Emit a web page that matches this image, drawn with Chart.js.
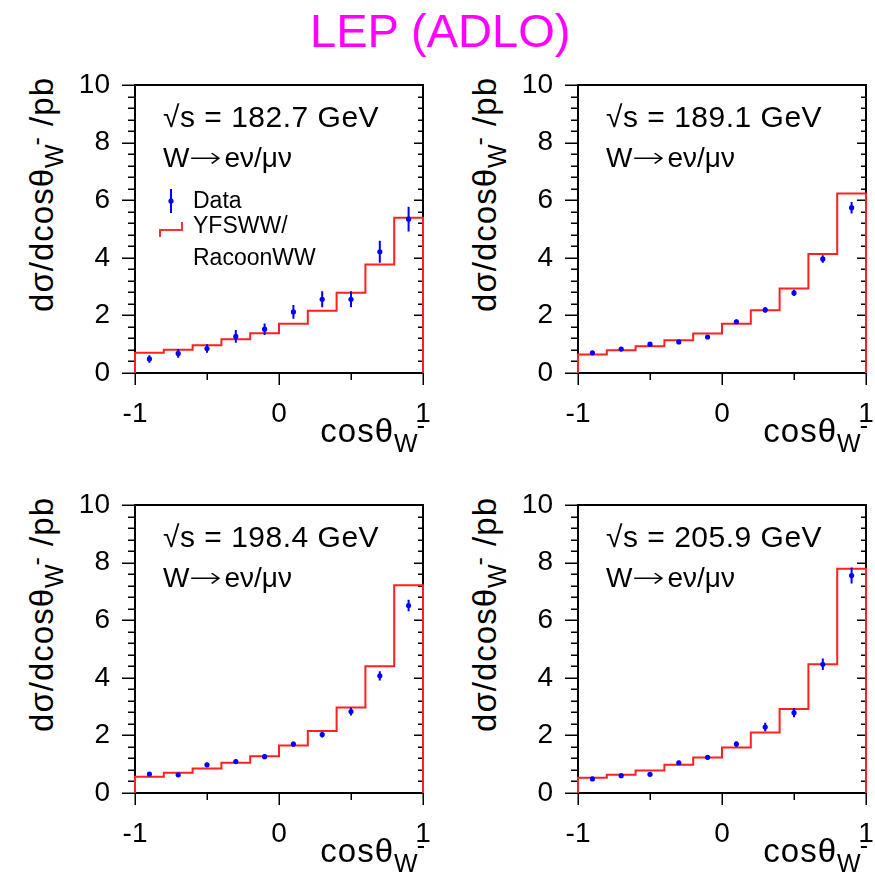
<!DOCTYPE html>
<html>
<head>
<meta charset="utf-8">
<script src="https://cdn.jsdelivr.net/npm/chart.js@4.4.1/dist/chart.umd.min.js"></script>
<style>
body { margin: 0; width: 875px; height: 875px; overflow: hidden; background: #fff; position: relative;
       font-family: "Liberation Sans", Arial, Helvetica, sans-serif; }
canvas { position: absolute; }
.t { position: absolute; white-space: nowrap; line-height: 1; color: #000; }
.sb { position: relative; font-size: 25px; top: 10px; }
.sp { position: relative; font-size: 25px; top: -8px; margin-left: -2px; }
.arr { display: inline-block; font-family: "DejaVu Sans", sans-serif; font-weight: 200; transform: scaleX(1.4); transform-origin: left center; width: 35px; }
.ytitle { position: absolute; width: 300px; height: 40px; line-height: 40px; font-size: 33px; letter-spacing: 1px;
          text-align: right; white-space: nowrap; transform: rotate(-90deg); }
</style>
</head>
<body>
<script>
// bins in cos(theta_W-)
var binEdges   = [-1, -0.8, -0.6, -0.4, -0.2, 0, 0.2, 0.4, 0.6, 0.8, 1];
var binCenters = [-0.9, -0.7, -0.5, -0.3, -0.1, 0.1, 0.3, 0.5, 0.7, 0.9];
var energies   = ['182.7', '189.1', '198.4', '205.9'];

// YFSWW/RacoonWW prediction (pb) per bin
var mc1 = [0.70, 0.81, 0.96, 1.17, 1.38, 1.71, 2.16, 2.79, 3.77, 5.39];
var mc2 = [0.64, 0.79, 0.93, 1.14, 1.37, 1.71, 2.18, 2.93, 4.13, 6.23];
var mc3 = [0.56, 0.70, 0.85, 1.05, 1.28, 1.65, 2.15, 2.97, 4.40, 7.21];
var mc4 = [0.53, 0.63, 0.78, 0.98, 1.23, 1.58, 2.10, 2.92, 4.47, 7.79];

// measured values and errors (pb)
var data1 = [0.49, 0.68, 0.85, 1.27, 1.52, 2.12, 2.56, 2.56, 4.21, 5.34];
var err1  = [0.13, 0.15, 0.15, 0.22, 0.20, 0.24, 0.28, 0.28, 0.38, 0.43];
var data2 = [0.70, 0.83, 1.00, 1.08, 1.25, 1.78, 2.19, 2.78, 3.96, 5.74];
var err2  = [0.05, 0.05, 0.05, 0.06, 0.06, 0.08, 0.09, 0.11, 0.13, 0.20];
var data3 = [0.66, 0.63, 0.98, 1.09, 1.26, 1.70, 2.03, 2.83, 4.07, 6.51];
var err3  = [0.06, 0.06, 0.07, 0.07, 0.08, 0.09, 0.10, 0.14, 0.16, 0.20];
var data4 = [0.49, 0.60, 0.65, 1.05, 1.24, 1.70, 2.29, 2.79, 4.47, 7.55];
var err4  = [0.05, 0.05, 0.06, 0.07, 0.08, 0.10, 0.15, 0.16, 0.20, 0.28];

// axis ticks
var xLabelTicks = [-1, 0, 1];
var xAllTicks   = [-1, -0.5, 0, 0.5, 1];
var yAllTicks   = [0, 0.4, 0.8, 1.2, 1.6, 2, 2.4, 2.8, 3.2, 3.6, 4, 4.4, 4.8, 5.2, 5.6, 6, 6.4, 6.8, 7.2, 7.6, 8, 8.4, 8.8, 9.2, 9.6, 10];

var FONT = '"Liberation Sans", Arial, Helvetica, sans-serif';
var SIZE = 288;                                  // plot frame size in px
var PAD = {left: 60, top: 45, right: 35, bottom: 50};  // room round the frame inside each canvas

var panels = [
    {energy: energies[0], mc: mc1, data: data1, err: err1, left: 135, top: 85,  legend: true},
    {energy: energies[1], mc: mc2, data: data2, err: err2, left: 578, top: 85,  legend: false},
    {energy: energies[2], mc: mc3, data: data3, err: err3, left: 135, top: 505, legend: false},
    {energy: energies[3], mc: mc4, data: data4, err: err4, left: 578, top: 505, legend: false}
];

/**
 * Puts a piece of text on the page so that its baseline lands on the given y.
 */
function addText(html, x, baseline, size, extraStyle) {
    var d = document.createElement('div');
    d.className = 't';
    d.innerHTML = html;
    d.style.fontSize = size + 'px';
    d.style.left = x + 'px';
    d.style.top = (baseline - 0.8465 * size) + 'px';
    if (extraStyle) d.setAttribute('style', d.getAttribute('style') + ';' + extraStyle);
    document.body.appendChild(d);
    return d;
}

/**
 * Histogram outline: starts and ends on zero so the outer edges are drawn.
 */
function histPoints(vals) {
    var pts = [{x: binEdges[0], y: 0}];
    for (let i = 0; i < vals.length; i++) pts.push({x: binEdges[i], y: vals[i]});
    pts.push({x: binEdges[binEdges.length - 1], y: vals[vals.length - 1]});
    pts.push({x: binEdges[binEdges.length - 1], y: 0});
    return pts;
}

/**
 * Frame, ROOT style tick marks, error bars and (optionally) the legend symbols.
 */
function makeAxesPlugin(p) {
    return {
        id: 'rootAxes',
        beforeDatasetsDraw: function(chart) {
            var ctx = chart.ctx, a = chart.chartArea, xs = chart.scales.x, ys = chart.scales.y;
            ctx.save();
            ctx.strokeStyle = '#000';
            ctx.lineWidth = 2;
            ctx.strokeRect(a.left, a.top, a.right - a.left, a.bottom - a.top);
            ctx.lineWidth = 1.5;
            ctx.beginPath();
            yAllTicks.forEach(function(v) {
                var y = Math.round(ys.getPixelForValue(v)) + 0.25;
                var major = Math.abs(v / 2 - Math.round(v / 2)) < 1e-6;
                ctx.moveTo(a.left - (major ? 13 : 7), y); ctx.lineTo(a.left, y);     // outside, left
                ctx.moveTo(a.right - (major ? 9 : 5), y); ctx.lineTo(a.right, y);    // inside, right
            });
            xAllTicks.forEach(function(v) {
                var x = Math.round(xs.getPixelForValue(v)) + 0.25;
                var major = xLabelTicks.indexOf(v) >= 0;
                ctx.moveTo(x, a.bottom); ctx.lineTo(x, a.bottom + (major ? 12 : 7));
            });
            ctx.stroke();
            ctx.restore();
        },
        afterDatasetsDraw: function(chart) {
            var ctx = chart.ctx, a = chart.chartArea, xs = chart.scales.x, ys = chart.scales.y;
            ctx.save();
            ctx.strokeStyle = '#0000ff';
            ctx.lineWidth = 2;
            ctx.beginPath();
            for (let i = 0; i < p.data.length; i++) {
                var x = xs.getPixelForValue(binCenters[i]);
                ctx.moveTo(x, ys.getPixelForValue(p.data[i] - p.err[i]));
                ctx.lineTo(x, ys.getPixelForValue(p.data[i] + p.err[i]));
            }
            ctx.stroke();
            if (p.legend) {
                // "Data" symbol
                var lx = a.left + 36, ly = a.top + 116;
                ctx.beginPath();
                ctx.moveTo(lx, ly - 12); ctx.lineTo(lx, ly + 12);
                ctx.stroke();
                ctx.fillStyle = '#0000ff';
                ctx.beginPath();
                ctx.arc(lx, ly, 2.6, 0, Math.PI * 2);
                ctx.fill();
                // prediction symbol
                ctx.strokeStyle = '#ff3030';
                ctx.beginPath();
                ctx.moveTo(a.left + 25, a.top + 152);
                ctx.lineTo(a.left + 25, a.top + 145);
                ctx.lineTo(a.left + 47, a.top + 145);
                ctx.lineTo(a.left + 47, a.top + 137);
                ctx.stroke();
            }
            ctx.restore();
        }
    };
}

// page title
addText('LEP (ADLO)', 310, 47, 47, 'color:#ff00ff');

panels.forEach(function(p) {
    var cv = document.createElement('canvas');
    cv.width = PAD.left + SIZE + PAD.right;
    cv.height = PAD.top + SIZE + PAD.bottom;
    cv.style.left = (p.left - PAD.left) + 'px';
    cv.style.top = (p.top - PAD.top) + 'px';
    document.body.appendChild(cv);

    new Chart(cv, {
        type: 'scatter',
        data: {
            datasets: [
                {type: 'line', label: 'YFSWW/RacoonWW', data: histPoints(p.mc), stepped: 'before',
                 borderColor: '#ff2020', borderWidth: 2, pointRadius: 0, fill: false, clip: false, order: 2},
                {label: 'Data', data: binCenters.map(function(x, i) { return {x: x, y: p.data[i]}; }),
                 pointRadius: 2.6, backgroundColor: '#0000ff', borderWidth: 0, order: 1}
            ]
        },
        options: {
            responsive: false,
            animation: false,
            events: [],
            layout: {padding: {top: PAD.top, right: PAD.right, left: 0, bottom: 0}},
            plugins: {legend: {display: false}, tooltip: {enabled: false}},
            scales: {
                x: {
                    type: 'linear', min: -1, max: 1,
                    afterFit: function(s) { s.height = PAD.bottom; },
                    afterBuildTicks: function(s) { s.ticks = xLabelTicks.map(function(v) { return {value: v}; }); },
                    grid: {display: false, drawTicks: false},
                    border: {display: false},
                    ticks: {font: {size: 28, family: FONT}, color: '#000', padding: 24, maxRotation: 0, autoSkip: false,
                            callback: function(v) { return String(v); }}
                },
                y: {
                    min: 0, max: 10,
                    afterFit: function(s) { s.width = PAD.left; },
                    grid: {display: false, drawTicks: false},
                    border: {display: false},
                    ticks: {stepSize: 2, font: {size: 28, family: FONT}, color: '#000', padding: 25}
                }
            }
        },
        plugins: [makeAxesPlugin(p)]
    });

    // texts in the frame
    addText('&radic;s = ' + p.energy + ' GeV', p.left + 28, p.top + 42, 30, 'letter-spacing:0.5px');
    addText('W<span class="arr">&rarr;</span>e&nu;/&mu;&nu;', p.left + 28, p.top + 83, 28);
    if (p.legend) {
        addText('Data', p.left + 58, p.top + 123, 23);
        addText('YFSWW/', p.left + 58, p.top + 148, 23);
        addText('RacoonWW', p.left + 58, p.top + 180, 23);
    }

    // x axis title, right aligned to the frame
    var xt = addText('cos&theta;<span class="sb">W</span><span class="sp">-</span>', 0, p.top + SIZE + 69, 33, 'letter-spacing:1px');
    xt.style.left = '';
    xt.style.right = (875 - (p.left + SIZE + 3)) + 'px';

    // y axis title, rotated, ending at the top of the frame
    var yt = document.createElement('div');
    yt.className = 'ytitle';
    yt.innerHTML = 'd&sigma;/dcos&theta;<span class="sb">W</span><span class="sp">-</span> /pb';
    var cx = p.left - 93, cy = p.top - 8 + 150;
    yt.style.left = (cx - 150) + 'px';
    yt.style.top = (cy - 20) + 'px';
    document.body.appendChild(yt);
});
</script>
</body>
</html>
